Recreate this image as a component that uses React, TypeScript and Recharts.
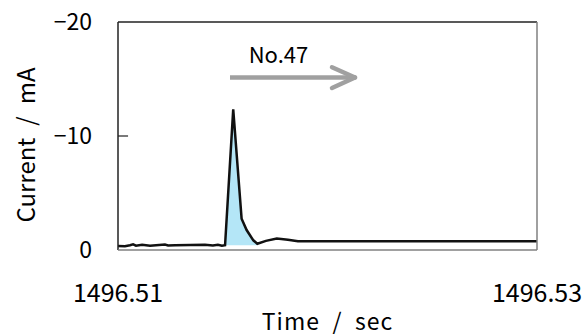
import React from "react"
import {
  ComposedChart,
  Line,
  Area,
  XAxis,
  YAxis,
  ReferenceLine,
  ReferenceDot,
  Label,
} from "recharts"

// time (sec) and current (mA)
const times = [
  1496.51, 1496.51033, 1496.51057, 1496.51072, 1496.51086, 1496.51115, 1496.51153,
  1496.51224, 1496.51239, 1496.51272, 1496.51344, 1496.51415, 1496.51453, 1496.51477,
  1496.51496, 1496.51511, 1496.5155, 1496.5159, 1496.51614, 1496.51646, 1496.51665,
  1496.51706, 1496.51758, 1496.51811, 1496.51859, 1496.53,
]
const currents = [
  -0.35, -0.33, -0.42, -0.5, -0.38, -0.45, -0.38, -0.48, -0.4, -0.42, -0.44, -0.46,
  -0.4, -0.46, -0.38, -0.42, -12.34, -2.75, -1.75, -0.85, -0.55, -0.8, -1.0, -0.9,
  -0.76, -0.76,
]
// shaded peak = points 15..20
const peakFrom = 15
const peakTo = 20
const peakBase = -0.42

const xTicks = [1496.51, 1496.53]
const yTicks = [-20, -10, 0]

// arrow annotation "No.47"
const arrowLabel = "No.47"
const arrowStart = { t: 1496.515346, i: -15.13 }
const arrowEnd = { t: 1496.521169, i: -15.13 }
const arrowTip = { t: 1496.521313, i: -15.13 }
const arrowBack = 1496.520215
const arrowUp = -16.03
const arrowDown = -14.21
const labelPos = { t: 1496.517661, i: -17.1 }

const data = times.map((t, k) => ({
  t,
  current: currents[k],
  peak: k >= peakFrom && k <= peakTo ? currents[k] : null,
}))

const FONT = "'Noto Sans CJK JP', 'Noto Sans', sans-serif"
const fmtY = (v: number) => (v < 0 ? "\u2212" + Math.abs(v) : String(v))

export default function App() {
  return (
    <div style={{ position: "absolute", left: 0, top: 0, background: "#fff" }}>
      <ComposedChart
        width={587}
        height={336}
        data={data}
        margin={{ top: 22, right: 50, left: 0, bottom: 0 }}
        style={{ fontFamily: FONT }}
      >
        <XAxis
          dataKey="t"
          type="number"
          domain={[1496.51, 1496.53]}
          ticks={xTicks}
          tickFormatter={(v: number) => v.toFixed(2)}
          axisLine={false}
          tickLine={false}
          tickSize={0}
          tickMargin={34}
          height={86}
          tick={{ fontSize: 25, fill: "#000" }}
          interval={0}
        >
          <Label
            value={"Time\u2002/\u2002sec"}
            position="insideBottom"
            offset={6}
            style={{ fontSize: 23, fill: "#000", letterSpacing: 1 }}
          />
        </XAxis>
        <YAxis
          type="number"
          domain={[-20, 0]}
          ticks={yTicks}
          reversed
          width={118}
          axisLine={false}
          tickLine={false}
          tickSize={0}
          tickMargin={26}
          tickFormatter={fmtY}
          tick={{ fontSize: 23, fill: "#000" }}
          interval={0}
        >
          <Label
            content={(p: any) => {
              const vb = p.viewBox
              const cx = 24
              const cy = vb.y + vb.height / 2 + 9
              return (
                <text
                  x={cx}
                  y={cy}
                  transform={`rotate(-90 ${cx} ${cy})`}
                  textAnchor="middle"
                  dominantBaseline="central"
                  fontSize={24}
                  fill="#000"
                >
                  {"Current\u2002/\u2002mA"}
                </text>
              )
            }}
          />
        </YAxis>

        <Area
          dataKey="peak"
          type="linear"
          baseValue={peakBase}
          fill="#b4e6f7"
          fillOpacity={1}
          stroke="none"
          isAnimationActive={false}
          dot={false}
          activeDot={false}
        />
        <Line
          dataKey="current"
          type="linear"
          stroke="#111"
          strokeWidth={2.5}
          dot={false}
          activeDot={false}
          isAnimationActive={false}
        />

        {/* plot frame */}
        <ReferenceLine y={-20} stroke="#222" strokeWidth={1.5} />
        <ReferenceLine x={1496.51} stroke="#222" strokeWidth={1.5} />
        <ReferenceLine y={0} stroke="#808080" strokeWidth={1.5} />
        <ReferenceLine x={1496.53} stroke="#808080" strokeWidth={1.5} />
        <ReferenceLine
          segment={[{ x: 1496.51, y: -10 }, { x: 1496.51048, y: -10 }]}
          stroke="#222"
          strokeWidth={1.2}
        />

        {/* arrow */}
        <ReferenceLine
          segment={[{ x: arrowStart.t, y: arrowStart.i }, { x: arrowEnd.t, y: arrowEnd.i }]}
          stroke="#a0a0a0"
          strokeWidth={4.5}
        />
        <ReferenceLine
          segment={[{ x: arrowBack, y: arrowUp }, { x: arrowTip.t, y: arrowTip.i }]}
          stroke="#a0a0a0"
          strokeWidth={4.5}
          strokeLinecap="round"
        />
        <ReferenceLine
          segment={[{ x: arrowBack, y: arrowDown }, { x: arrowTip.t, y: arrowTip.i }]}
          stroke="#a0a0a0"
          strokeWidth={4.5}
          strokeLinecap="round"
        />
        <ReferenceDot
          x={labelPos.t}
          y={labelPos.i}
          r={0}
          fill="none"
          stroke="none"
          label={{ value: arrowLabel, position: "center", fontSize: 22, fill: "#000" }}
        />
      </ComposedChart>
    </div>
  )
}
